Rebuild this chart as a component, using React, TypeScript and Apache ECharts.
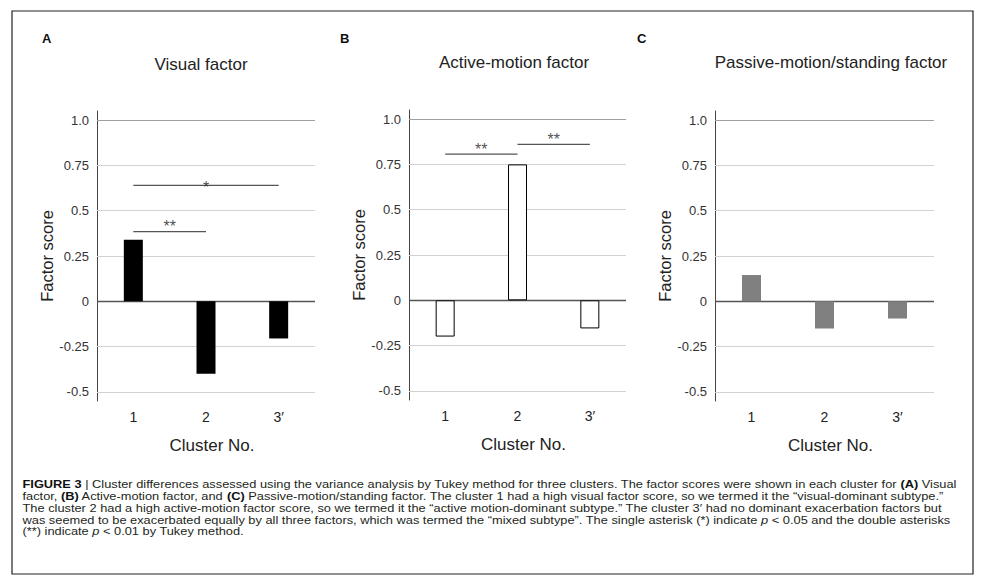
import React, { useEffect, useRef } from "react";
import * as echarts from "echarts";

const clusters = ["1", "2", "3′"];
const visualScores = [0.34, -0.4, -0.205];
const activeScores = [-0.2, 0.75, -0.155];
const passiveScores = [0.145, -0.15, -0.095];
const tickValues = [-0.5, -0.25, 0, 0.25, 0.5, 0.75, 1.0];
const tickLabels = ["-0.5", "-0.25", "0", "0.25", "0.5", "0.75", "1.0"];
const panelTitles = ["Visual factor", "Active-motion factor", "Passive-motion/standing factor"];
const panelLetters = ["A", "B", "C"];
const barColors = ["#000000", "#ffffff", "#808080"];
// significance brackets: from/to cluster index, bracket level, asterisk level
const visualBrackets = [
  { from: 0, to: 1, level: 0.385, starLevel: 0.437, label: "**" },
  { from: 0, to: 2, level: 0.64, starLevel: 0.652, label: "*" },
];
const activeBrackets = [
  { from: 0, to: 1, level: 0.807, starLevel: 0.855, label: "**" },
  { from: 1, to: 2, level: 0.86, starLevel: 0.908, label: "**" },
];
const passiveBrackets: any[] = [];

const captionLines: [string, string][][] = [
  [["b", "FIGURE 3"], ["n", " | Cluster differences assessed using the variance analysis by Tukey method for three clusters. The factor scores were shown in each cluster for "], ["b", "(A)"], ["n", " Visual"]],
  [["n", "factor, "], ["b", "(B)"], ["n", " Active-motion factor, and "], ["b", "(C)"], ["n", " Passive-motion/standing factor. The cluster 1 had a high visual factor score, so we termed it the “visual-dominant subtype.”"]],
  [["n", "The cluster 2 had a high active-motion factor score, so we termed it the “active motion-dominant subtype.” The cluster 3′ had no dominant exacerbation factors but"]],
  [["n", "was seemed to be exacerbated equally by all three factors, which was termed the “mixed subtype”. The single asterisk (*) indicate "], ["i", "p"], ["n", " < 0.05 and the double asterisks"]],
  [["n", "(**) indicate "], ["i", "p"], ["n", " < 0.01 by Tukey method."]],
];

const FONT = "Liberation Sans, Arial, Helvetica, sans-serif";
const CAP = 11.4;
const CAP_SCALE_X = 1.125;

const panels = [
  { scores: visualScores, brackets: visualBrackets, left: 97, top: 111, width: 218, titleX: 201, titleY: 64, letterX: 42 },
  { scores: activeScores, brackets: activeBrackets, left: 409, top: 110, width: 217, titleX: 514, titleY: 62, letterX: 340 },
  { scores: passiveScores, brackets: passiveBrackets, left: 715, top: 111, width: 219, titleX: 831, titleY: 62, letterX: 637 },
];

function labelFor(v: number): string {
  for (let i = 0; i < tickValues.length; i++) {
    if (Math.abs(v - tickValues[i]) < 1e-6) return tickLabels[i];
  }
  return "";
}

export default function App() {
  const ref = useRef<HTMLDivElement>(null);
  useEffect(() => {
    if (!ref.current) return;
    const chart = echarts.init(ref.current, undefined, { renderer: "svg" });
    const grid: any[] = [];
    const xAxis: any[] = [];
    const yAxis: any[] = [];
    const series: any[] = [];
    const graphic: any[] = [];

    panels.forEach((p, i) => {
      grid.push({ left: p.left, top: p.top, width: p.width, height: 290, containLabel: false });
      xAxis.push({
        type: "category",
        gridIndex: i,
        data: clusters,
        axisLine: { show: false, onZero: false },
        axisTick: { show: false },
        axisLabel: { fontSize: 14, color: "#222", margin: 9, fontFamily: FONT },
        name: "Cluster No.",
        nameLocation: "middle",
        nameGap: 36,
        nameTextStyle: { fontSize: 17, color: "#222", fontFamily: FONT, padding: [0, 0, 0, 12] },
      });
      yAxis.push({
        type: "value",
        gridIndex: i,
        min: -0.55,
        max: 1.05,
        interval: 0.05,
        axisLine: { show: true, onZero: false, lineStyle: { color: "#444", width: 1 } },
        axisTick: { show: false },
        splitLine: { show: false },
        axisLabel: { formatter: labelFor, fontSize: 13, color: "#333", margin: 8, fontFamily: FONT },
        name: "Factor score",
        nameLocation: "middle",
        nameGap: 42,
        nameTextStyle: { fontSize: 16.5, color: "#222", fontFamily: FONT },
      });
    });
    // hidden continuous x axes for brackets
    panels.forEach((p, i) => {
      xAxis.push({ type: "value", gridIndex: i, min: -0.5, max: 2.5, show: false, axisLine: { onZero: false } });
    });

    panels.forEach((p, i) => {
      series.push({
        type: "bar",
        xAxisIndex: i,
        yAxisIndex: i,
        data: p.scores,
        barWidth: 19,
        z: 3,
        itemStyle: {
          color: barColors[i],
          borderColor: i === 1 ? "#000" : barColors[i],
          borderWidth: i === 1 ? 1 : 0,
        },
        markLine: {
          silent: true,
          symbol: ["none", "none"],
          label: { show: false },
          z: 1,
          data: tickValues.map((v) => ({
            yAxis: v,
            lineStyle: {
              type: "solid",
              color: v === 0 ? "#555" : v === 1 ? "#a0a0a0" : "#d2d2d2",
              width: v === 0 ? 1.3 : 1,
            },
          })),
        },
      });
      p.brackets.forEach((b: any) => {
        series.push({
          type: "line",
          xAxisIndex: panels.length + i,
          yAxisIndex: i,
          data: [[b.from, b.level], [b.to, b.level]],
          symbol: "none",
          lineStyle: { color: "#555", width: 1.2 },
          silent: true,
          z: 4,
        });
        series.push({
          type: "scatter",
          xAxisIndex: panels.length + i,
          yAxisIndex: i,
          data: [[(b.from + b.to) / 2, b.starLevel]],
          symbolSize: 0,
          silent: true,
          z: 4,
          label: {
            show: true,
            position: "inside",
            formatter: b.label,
            fontSize: 16,
            color: "#222",
            fontFamily: FONT,
            offset: [0, 4],
          },
        });
      });
      graphic.push({
        type: "text",
        x: p.titleX,
        y: p.titleY,
        style: { text: panelTitles[i], fontSize: 17, fill: "#222", fontFamily: FONT, align: "center", verticalAlign: "middle" },
      });
      graphic.push({
        type: "text",
        x: p.letterX,
        y: 38,
        style: { text: panelLetters[i], fontSize: 13, fontWeight: "bold", fill: "#111", fontFamily: FONT, align: "left", verticalAlign: "middle" },
      });
    });

    graphic.push({
      type: "rect",
      shape: { x: 12, y: 11, width: 961, height: 563 },
      style: { fill: "none", stroke: "#222", lineWidth: 1.2 },
    });

    captionLines.forEach((segs, li) => {
      const text = segs.map(([k, t]) => (k === "n" ? t : `{${k}|${t}}`)).join("");
      graphic.push({
        type: "text",
        x: 22.5,
        y: 484.5 + li * 11.8,
        scaleX: CAP_SCALE_X,
        scaleY: 1,
        style: {
          text,
          fontSize: CAP,
          fill: "#231f20",
          fontFamily: FONT,
          align: "left",
          verticalAlign: "middle",
          rich: {
            b: { fontWeight: "bold", fontSize: CAP, fontFamily: FONT, fill: "#111" },
            i: { fontStyle: "italic", fontSize: CAP, fontFamily: FONT, fill: "#231f20" },
          },
        },
      });
    });

    chart.setOption({
      animation: false,
      backgroundColor: "#ffffff",
      grid,
      xAxis,
      yAxis,
      series,
      graphic,
    });
    return () => chart.dispose();
  }, []);
  return <div ref={ref} style={{ position: "fixed", left: 0, top: 0, width: 992, height: 583 }} />;
}
